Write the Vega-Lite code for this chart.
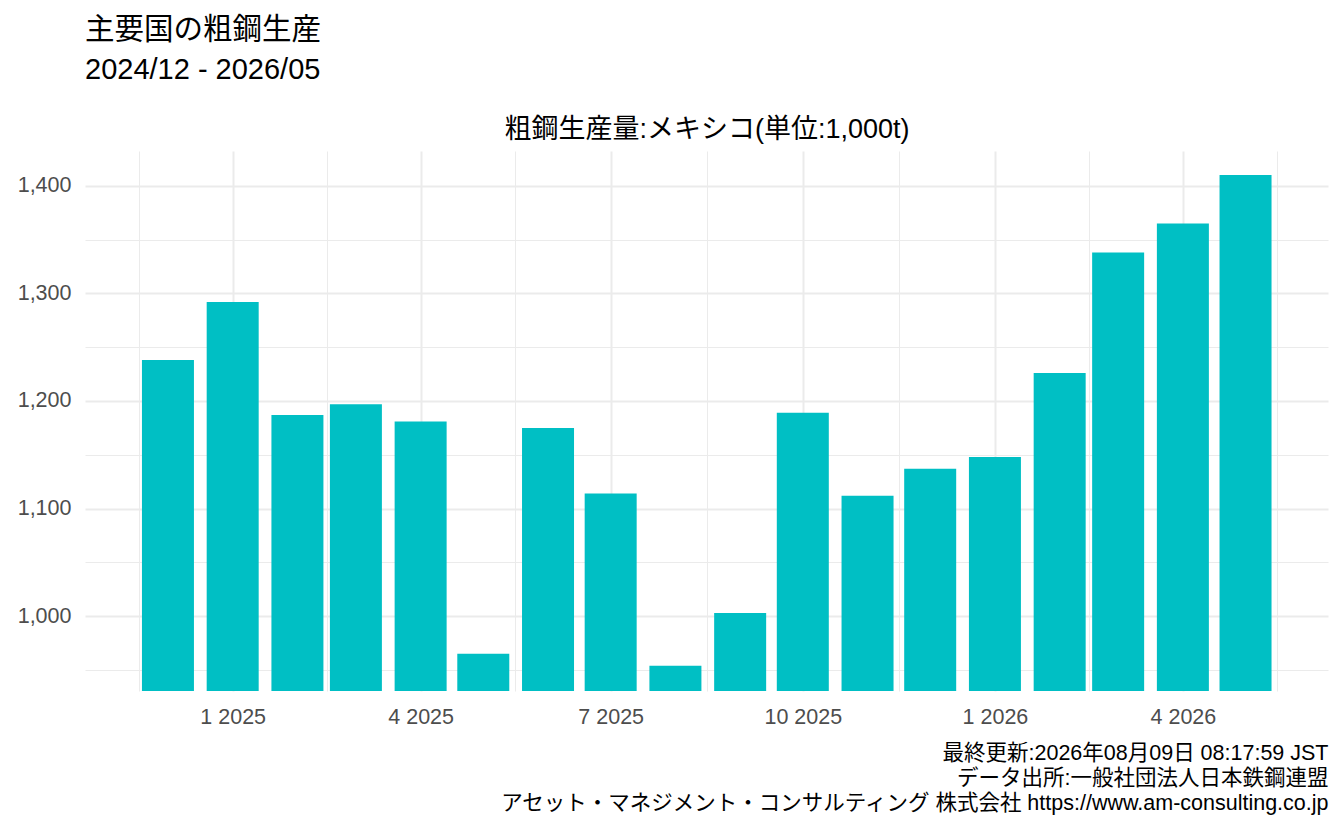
{
  "$schema": "https://vega.github.io/schema/vega-lite/v6.json",
  "autosize": {"type": "none"},
  "padding": {"left": 85, "top": 151, "right": 16, "bottom": 139},
  "width": 1243,
  "height": 540,
  "background": "white",
  "title": {
    "text": "主要国の粗鋼生産",
    "subtitle": "2024/12 - 2026/05",
    "anchor": "start",
    "frame": "group",
    "offset": 29,
    "fontSize": 29.5,
    "fontWeight": "normal",
    "color": "#000000",
    "subtitleFontSize": 29,
    "subtitleColor": "#000000",
    "subtitlePadding": 11
  },
  "data": {
    "values": [
      {"month": "2024-12-01", "value": 1238},
      {"month": "2025-01-01", "value": 1292},
      {"month": "2025-02-01", "value": 1187},
      {"month": "2025-03-01", "value": 1197},
      {"month": "2025-04-01", "value": 1181},
      {"month": "2025-05-01", "value": 965},
      {"month": "2025-06-01", "value": 1175},
      {"month": "2025-07-01", "value": 1114},
      {"month": "2025-08-01", "value": 954},
      {"month": "2025-09-01", "value": 1003},
      {"month": "2025-10-01", "value": 1189},
      {"month": "2025-11-01", "value": 1112},
      {"month": "2025-12-01", "value": 1137},
      {"month": "2026-01-01", "value": 1148},
      {"month": "2026-02-01", "value": 1226},
      {"month": "2026-03-01", "value": 1338},
      {"month": "2026-04-01", "value": 1365},
      {"month": "2026-05-01", "value": 1410}
    ]
  },
  "mark": {"type": "bar", "size": 52, "color": "#00BFC4", "clip": true},
  "encoding": {
    "x": {
      "field": "month",
      "type": "temporal",
      "scale": {
        "type": "utc",
        "padding": 0,
        "domain": [
          {"year": 2024, "month": 10, "date": 22, "hours": 6, "minutes": 45, "utc": true},
          {"year": 2026, "month": 6, "date": 9, "hours": 11, "minutes": 45, "utc": true}
        ]
      },
      "axis": {
        "values": [
          {"year": 2024, "month": 11, "date": 17, "utc": true},
          {"year": 2025, "month": 1, "date": 1, "utc": true},
          {"year": 2025, "month": 2, "date": 15, "utc": true},
          {"year": 2025, "month": 4, "date": 1, "utc": true},
          {"year": 2025, "month": 5, "date": 16, "utc": true},
          {"year": 2025, "month": 7, "date": 1, "utc": true},
          {"year": 2025, "month": 8, "date": 16, "utc": true},
          {"year": 2025, "month": 10, "date": 1, "utc": true},
          {"year": 2025, "month": 11, "date": 16, "utc": true},
          {"year": 2026, "month": 1, "date": 1, "utc": true},
          {"year": 2026, "month": 2, "date": 15, "utc": true},
          {"year": 2026, "month": 4, "date": 1, "utc": true},
          {"year": 2026, "month": 5, "date": 16, "utc": true}
        ],
        "labelExpr": "utcdate(datum.value) === 1 ? utcFormat(datum.value, '%-m %Y') : ''",
        "gridWidth": {"condition": {"test": "utcdate(datum.value) !== 1", "value": 1}, "value": 2},
        "title": [
          "最終更新:2026年08月09日 08:17:59 JST",
          "データ出所:一般社団法人日本鉄鋼連盟",
          "アセット・マネジメント・コンサルティング 株式会社 https://www.am-consulting.co.jp"
        ],
        "titleX": 1243,
        "titleY": 68.6,
        "titleAlign": "right",
        "titleAnchor": "end",
        "titleBaseline": "alphabetic",
        "titleLineHeight": 25,
        "titleFontSize": 21.5,
        "titleFontWeight": "normal",
        "titleColor": "#000000",
        "labelPadding": 15
      }
    },
    "y": {
      "field": "value",
      "type": "quantitative",
      "scale": {"domain": [930.5, 1432.3], "nice": false, "zero": false, "padding": 0},
      "axis": {
        "values": [950, 1000, 1050, 1100, 1150, 1200, 1250, 1300, 1350, 1400],
        "labelExpr": "datum.value % 100 === 0 ? format(datum.value, ',') : ''",
        "gridWidth": {"condition": {"test": "datum.value % 100 !== 0", "value": 1}, "value": 2},
        "title": "粗鋼生産量:メキシコ(単位:1,000t)",
        "titleAngle": 0,
        "titleX": 621.5,
        "titleY": -14,
        "titleAlign": "center",
        "titleAnchor": "middle",
        "titleBaseline": "alphabetic",
        "titleFontSize": 27,
        "titleFontWeight": "normal",
        "titleColor": "#000000",
        "labelPadding": 14
      }
    }
  },
  "config": {
    "font": "Liberation Sans, Noto Sans CJK JP",
    "view": {"stroke": null},
    "axis": {
      "domain": false,
      "ticks": false,
      "tickSize": 0,
      "grid": true,
      "gridColor": "#EBEBEB",
      "labelFontSize": 21.5,
      "labelColor": "#4D4D4D",
      "labelFont": "Liberation Sans, Noto Sans CJK JP",
      "titleFont": "Liberation Sans, Noto Sans CJK JP"
    },
    "title": {"font": "Liberation Sans, Noto Sans CJK JP", "subtitleFont": "Liberation Sans, Noto Sans CJK JP"}
  }
}
